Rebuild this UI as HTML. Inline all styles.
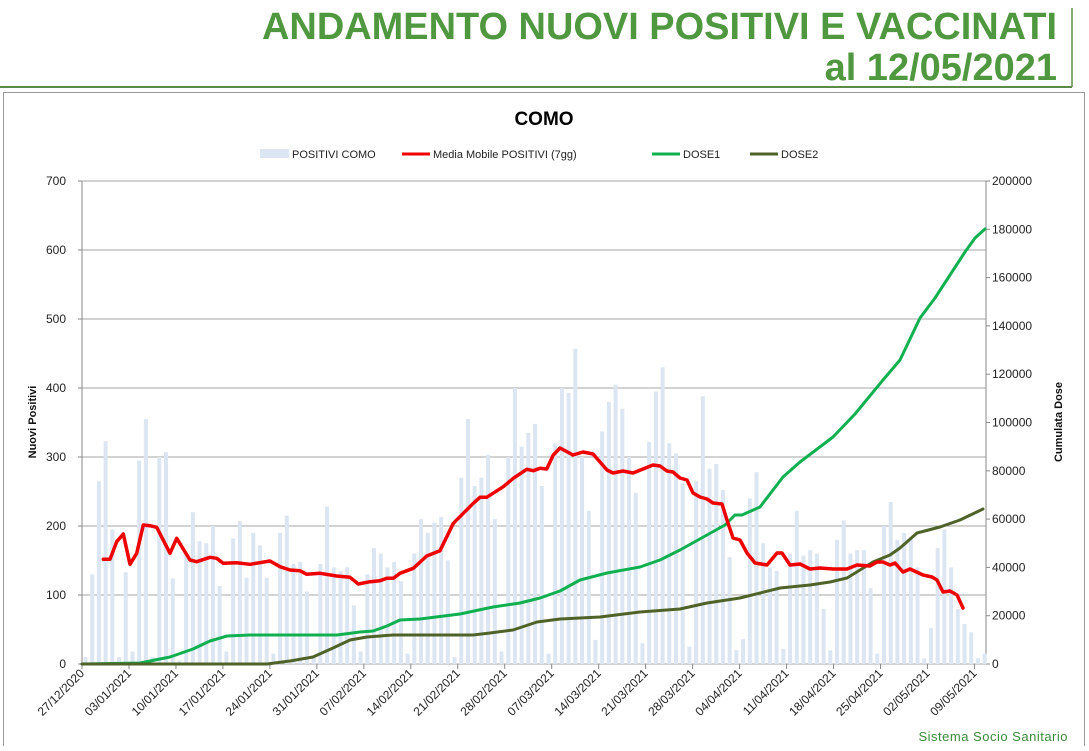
<!DOCTYPE html>
<html><head><meta charset="utf-8"><style>
body{margin:0;background:#fff;width:1089px;height:746px;overflow:hidden;font-family:"Liberation Sans",sans-serif}
</style></head><body>
<svg id="s" width="1089" height="746" xmlns="http://www.w3.org/2000/svg" font-family="Liberation Sans, sans-serif">
<text x="1057" y="39" text-anchor="end" font-size="38" font-weight="bold" fill="#50983f" textLength="795" lengthAdjust="spacingAndGlyphs">ANDAMENTO NUOVI POSITIVI E VACCINATI</text>
<text x="1057" y="80" text-anchor="end" font-size="38" font-weight="bold" fill="#50983f">al 12/05/2021</text>
<line x1="0" y1="87" x2="1072" y2="87" stroke="#5a8a4a" stroke-width="2"/>
<line x1="1072" y1="8" x2="1072" y2="87" stroke="#5a8a4a" stroke-width="1.5"/>
<rect x="3.5" y="92.5" width="1081" height="660" fill="none" stroke="#999" stroke-width="1"/>
<text x="544" y="125" text-anchor="middle" font-size="19" font-weight="bold" fill="#000">COMO</text>
<rect x="260" y="149" width="29" height="9" fill="#dce6f2"/>
<text x="292" y="158" font-size="11" fill="#222">POSITIVI COMO</text>
<line x1="402" y1="154" x2="430" y2="154" stroke="#e00" stroke-width="3"/>
<text x="433" y="158" font-size="11" fill="#222">Media Mobile POSITIVI (7gg)</text>
<line x1="652" y1="154" x2="680" y2="154" stroke="#10b050" stroke-width="3"/>
<text x="683" y="158" font-size="11" fill="#222">DOSE1</text>
<line x1="750" y1="154" x2="778" y2="154" stroke="#4f6228" stroke-width="3"/>
<text x="781" y="158" font-size="11" fill="#222">DOSE2</text>
<g id="grid"></g><g id="bars"></g><g id="lines"></g><g id="labels" font-size="12" fill="#222"></g>
<text transform="translate(36,422) rotate(-90)" text-anchor="middle" font-size="11" font-weight="bold" fill="#111">Nuovi Positivi</text>
<text transform="translate(1062,422) rotate(-90)" text-anchor="middle" font-size="11" font-weight="bold" fill="#111">Cumulata Dose</text>
<text x="1068" y="741" text-anchor="end" font-size="13" fill="#3a8a3a" letter-spacing="0.5">Sistema Socio Sanitario</text>
</svg>
<script>
var NS="http://www.w3.org/2000/svg";
function el(p,t,a,txt){var e=document.createElementNS(NS,t);for(var k in a)e.setAttribute(k,a[k]);if(txt!=null)e.textContent=txt;document.getElementById(p).appendChild(e);return e;}
var X0=82,X1=986,Y0=664,Y7=181,dx=6.71;
for(var v=0;v<=700;v+=100){var y=Y0-(Y0-Y7)*v/700;
 el("grid","line",{x1:X0,x2:X1,y1:y,y2:y,stroke:"#a6a6a6","stroke-width":1});
 el("labels","text",{x:66,y:y+4,"text-anchor":"end"},String(v));
 el("grid","line",{x1:X0-4,x2:X0,y1:y,y2:y,stroke:"#888"});}
for(var v=0;v<=200000;v+=20000){var y=Y0-(Y0-Y7)*v/200000;
 el("labels","text",{x:992,y:y+4},String(v));
 el("grid","line",{x1:X1,x2:X1+4,y1:y,y2:y,stroke:"#888"});}
el("grid","line",{x1:X0,x2:X0,y1:Y7,y2:Y0,stroke:"#888"});
el("grid","line",{x1:X1,x2:X1,y1:Y7,y2:Y0,stroke:"#888"});
var dates=["27/12/2020","03/01/2021","10/01/2021","17/01/2021","24/01/2021","31/01/2021","07/02/2021","14/02/2021","21/02/2021","28/02/2021","07/03/2021","14/03/2021","21/03/2021","28/03/2021","04/04/2021","11/04/2021","18/04/2021","25/04/2021","02/05/2021","09/05/2021"];
dates.forEach(function(d,i){var x=X0+i*7*dx;
 el("grid","line",{x1:x,x2:x,y1:Y0,y2:Y0+5,stroke:"#888"});
 el("labels","text",{transform:"translate("+(x+3)+","+(Y0+10)+") rotate(-45)","text-anchor":"end"},d);});
var bars=[10,130,265,323,195,10,133,18,295,355,10,300,307,124,5,160,220,178,175,200,113,18,182,207,125,190,172,125,15,190,215,145,148,105,10,145,228,140,135,140,85,18,130,168,160,140,148,120,15,160,210,190,205,213,150,10,270,355,258,270,303,210,18,300,400,315,335,348,258,15,320,400,393,457,300,222,35,337,380,405,370,300,248,30,322,395,430,320,305,262,25,265,388,283,290,252,155,20,36,240,278,175,140,135,22,160,222,157,165,160,80,20,180,208,160,165,165,110,15,200,235,180,190,184,140,8,52,168,195,140,80,58,46,8,15];
bars.forEach(function(v,i){var x=X0+i*dx+1.5,h=(Y0-Y7)*v/700;
 el("bars","rect",{x:x,y:Y0-h,width:4,height:h,fill:"#dce6f2"});});
function pl(pts,c,w){el("lines","polyline",{points:pts.map(function(p){return p.join(",")}).join(" "),fill:"none",stroke:c,"stroke-width":w,"stroke-linejoin":"round","stroke-linecap":"round"});}
pl([[82,664],[140,663],[170,657],[193,649],[210,641],[227,636],[250,635],[337,635],[360,632],[373,631],[387,626],[400,620],[420,619],[460,614],[493,607],[520,603],[540,598],[560,591],[580,580],[607,573],[640,567],[660,560],[680,550],[707,535],[725,525],[735,515],[742,515],[760,507],[783,477],[800,462],[833,437],[855,414],[883,380],[900,360],[920,318],[935,298],[950,275],[965,252],[975,238],[985,229]],"#10b050",3);
pl([[82,664],[267,664],[290,661],[313,657],[333,648],[350,640],[367,637],[393,635],[473,635],[490,633],[513,630],[537,622],[560,619],[600,617],[640,612],[680,609],[707,603],[740,598],[780,588],[810,585],[830,582],[847,578],[860,570],[873,562],[890,555],[900,548],[917,533],[940,527],[960,520],[983,509]],"#4f6228",3);
pl([[103.3,559.3],[110,559.3],[116.7,541.7],[123.3,534],[130,564.3],[136.7,553.3],[143.3,525],[150,525.7],[156.7,527.3],[170,553.3],[176.7,538.3],[190,560],[196.7,561.7],[210,557.3],[216.7,558.3],[223.3,563.3],[236.7,562.7],[250,564.3],[270,561],[280,566.7],[290,570],[300,570.7],[306.7,574.3],[320,573.3],[336.7,576],[350,577.3],[358.3,584],[370,581.7],[380,580.7],[386.7,578.3],[393.3,578.3],[400,573.3],[413.3,568.3],[426.7,556],[440,550.7],[453.3,523.3],[463.3,513.3],[473.3,503.3],[480,497.3],[486.7,497.3],[503.3,486.7],[513.3,478.3],[526.7,469.3],[533.3,470.7],[540,468.3],[546.7,469],[553.3,455],[560,448],[573,455],[583,452],[593,454],[607,470],[613,473],[623,471],[633,473],[643,469],[653,465],[660,466],[667,471],[673,472],[680,478],[687,480],[693,493],[700,497],[707,499],[713,503],[722,504],[727,520],[733,538],[740,540],[747,553],[755,563],[767,565],[777,553],[782,553],[790,565],[800,564],[810,569],[820,568],[833,569],[847,569],[857,565],[870,566],[877,562],[883,562],[890,565],[895,563],[903,572],[910,569],[923,575],[932,577],[937,580],[943,592],[950,591],[957,595],[963,608]],"#e00",3.5);
</script>
</body></html>
